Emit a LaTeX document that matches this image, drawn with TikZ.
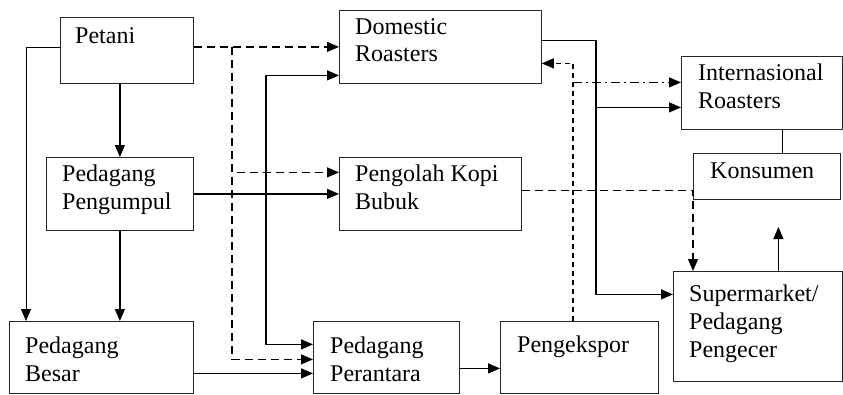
\documentclass[tikz,border=0pt]{standalone}
\usepackage{fontspec}
\setmainfont{Liberation Serif}
\usetikzlibrary{arrows.meta,calc,positioning}
\tikzset{
  cbox/.style={
    draw=black!85,
    line width=0.8pt,
    anchor=north west,
    inner sep=0pt
  },
  ctext/.style={
    anchor=north west,
    inner sep=0pt,
    align=left,
    font=\fontsize{24}{27.7}\selectfont
  },
  tip/.tip={Triangle[length=12pt,width=10pt]},
  flow/.style={
    line width=1.2pt,
    -tip
  },
  dflow/.style={
    flow,
    dash pattern=on 8pt off 5pt
  },
  sdflow/.style={
    flow,
    dash pattern=on 5pt off 4pt
  },
  ddflow/.style={
    flow,
    dash pattern=on 9pt off 4pt on 2pt off 4pt
  }
}

\begin{document}
\begin{tikzpicture}[x=1pt,y=-1pt]
  % same frame as the reference
  \useasboundingbox (0,0) rectangle (843,394);

  % boxes
  \node[cbox, minimum width=133, minimum height=66]  (petani)    at (60,17)   {};
  \node[cbox, minimum width=202, minimum height=73]  (domestic)  at (339,10)  {};
  \node[cbox, minimum width=161, minimum height=73]  (intl)      at (681,56)  {};
  \node[cbox, minimum width=147, minimum height=46]  (konsumen)  at (693,153) {};
  \node[cbox, minimum width=147, minimum height=73]  (pengumpul) at (46,157)  {};
  \node[cbox, minimum width=182, minimum height=73]  (pengolah)  at (339,157) {};
  \node[cbox, minimum width=184, minimum height=72]  (besar)     at (9,321)   {};
  \node[cbox, minimum width=146, minimum height=72]  (perantara) at (313,321) {};
  \node[cbox, minimum width=158, minimum height=72]  (ekspor)    at (500,321) {};
  \node[cbox, minimum width=169, minimum height=110] (super)     at (673,271) {};

  % labels, top left in each box
  \node[ctext] (petani-t)    at ([shift={(15,10)}]petani.north west)    {Petani};
  \node[ctext] (domestic-t)  at ([shift={(16,8)}]domestic.north west)   {Domestic\\Roasters};
  \node[ctext] (intl-t)      at ([shift={(17,8)}]intl.north west)       {Internasional\\Roasters};
  \node[ctext] (konsumen-t)  at ([shift={(17,10)}]konsumen.north west)  {Konsumen};
  \node[ctext] (pengumpul-t) at ([shift={(16,8)}]pengumpul.north west)  {Pedagang\\Pengumpul};
  \node[ctext] (pengolah-t)  at ([shift={(16,8)}]pengolah.north west)   {Pengolah Kopi\\Bubuk};
  \node[ctext] (besar-t)     at ([shift={(16,16)}]besar.north west)     {Pedagang\\Besar};
  \node[ctext] (perantara-t) at ([shift={(17,16)}]perantara.north west) {Pedagang\\Perantara};
  \node[ctext] (ekspor-t)    at ([shift={(17,15)}]ekspor.north west)    {Pengekspor};
  \node[ctext] (super-t)     at ([shift={(16,14)}]super.north west)     {Supermarket/\\Pedagang\\Pengecer};

  % junction columns
  \coordinate (jd) at (232,0);
  \coordinate (jx) at (573,0);
  \coordinate (jr) at (596,0);

  % solid flows on the left
  \draw[flow, line width=0.8pt] ([yshift=3pt]petani.west) -| ([xshift=17]besar.north west);
  \draw[flow] (pengumpul.north |- petani.south) -- (pengumpul.north);
  \draw[flow] (pengumpul.south) -- (pengumpul.south |- besar.north);
  \draw[flow] (pengumpul.east) -- (pengolah.west);
  \draw[flow, tip-tip]
    ([yshift=-28.5pt]domestic.west) -- ++(-73,0) |- ([yshift=13pt]perantara.west);
  \draw[flow] ([yshift=-16pt]besar.east) -- ([yshift=-16pt]besar.east -| perantara.west);
  \draw[flow] ([yshift=-11pt]perantara.east) -- ([yshift=-11pt]perantara.east -| ekspor.west);

  % dashed flows from Petani
  \draw[dflow] (petani.east |- domestic.west) -- (domestic.west);
  \draw[dflow] (jd |- domestic.west) |- ([yshift=21.5pt]pengolah.west);
  \draw[dflow] (jd |- domestic.west) |- ([yshift=-2pt]perantara.west);

  % exporter and roasters
  \draw[sdflow] (jx |- ekspor.north) |- ([yshift=-16.5pt]domestic.east);
  \draw[ddflow] ([yshift=10.5pt]intl.west -| jx) -- ([yshift=10.5pt]intl.west);
  \draw[flow] ([yshift=6.5pt]domestic.east) -| ([yshift=32pt]super.west -| jr) -- ([yshift=32pt]super.west);
  \draw[flow] ([yshift=-14.5pt]intl.west -| jr) -- ([yshift=-14.5pt]intl.west);

  % right side
  \draw[dflow] ([yshift=3.5pt]pengolah.east) -| (konsumen.west |- super.north);
  \draw[line width=0.8pt] ([xshift=20.5pt]intl.south) -- ([xshift=20.5pt]intl.south |- konsumen.north);
  \draw[flow] ([xshift=20.5pt]super.north) -- ++(0,-44);
\end{tikzpicture}
\end{document}
